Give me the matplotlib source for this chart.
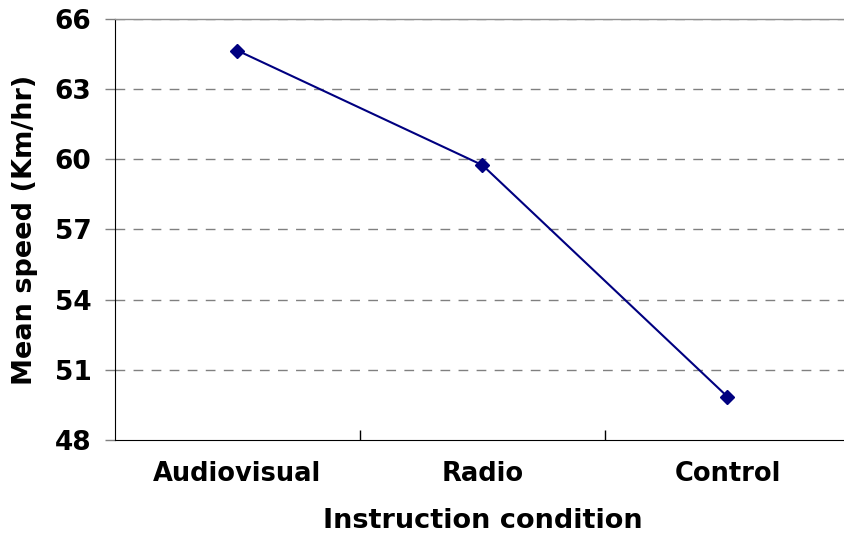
import matplotlib
matplotlib.use("Agg")
import matplotlib.pyplot as plt
from matplotlib.ticker import FixedLocator, NullFormatter

# data
conditions = ["Audiovisual", "Radio", "Control"]
mean_speed = [64.65, 59.75, 49.85]
y_ticks = [48, 51, 54, 57, 60, 63, 66]

fig = plt.figure(figsize=(8.45, 5.44), dpi=100)
ax = fig.add_axes([115 / 845, 1 - 440 / 544, 735 / 845, 421 / 544])

x = list(range(len(conditions)))
ax.plot(x, mean_speed, color="#000080", lw=1.5, marker="D", ms=7,
        markerfacecolor="#000080", markeredgecolor="#000080", zorder=3)

ax.set_xlim(-0.5, len(conditions) - 0.5)
ax.set_ylim(48, 66)
ax.set_yticks(y_ticks)
ax.set_xticks(x)
ax.set_xticklabels(conditions)
ax.xaxis.set_minor_locator(FixedLocator([0.5, 1.5]))
ax.xaxis.set_minor_formatter(NullFormatter())

for v in y_ticks[1:]:
    ax.axhline(v, color="#808080", lw=1, ls=(0, (7, 6)), zorder=1)

ax.spines["right"].set_visible(False)
ax.spines["top"].set_color("#909090")
ax.spines["top"].set_linewidth(1)
ax.spines["left"].set_color("black")
ax.spines["bottom"].set_color("black")

ax.tick_params(axis="y", direction="out", length=7, width=1, color="#808080",
               labelsize=19, pad=10)
ax.tick_params(axis="x", which="major", length=0, labelsize=18.5, pad=15)
ax.tick_params(axis="x", which="minor", direction="in", length=7, width=1)

for lab in ax.get_yticklabels() + ax.get_xticklabels():
    lab.set_fontweight("bold")

ax.set_ylabel("Mean speed (Km/hr)", fontsize=19.5, fontweight="bold")
ax.yaxis.set_label_coords(-77 / 735, 0.5)
ax.set_xlabel("Instruction condition", fontsize=19.5, fontweight="bold")
ax.xaxis.set_label_coords(0.5, -68 / 421)

fig.savefig("out.png", dpi=100)
